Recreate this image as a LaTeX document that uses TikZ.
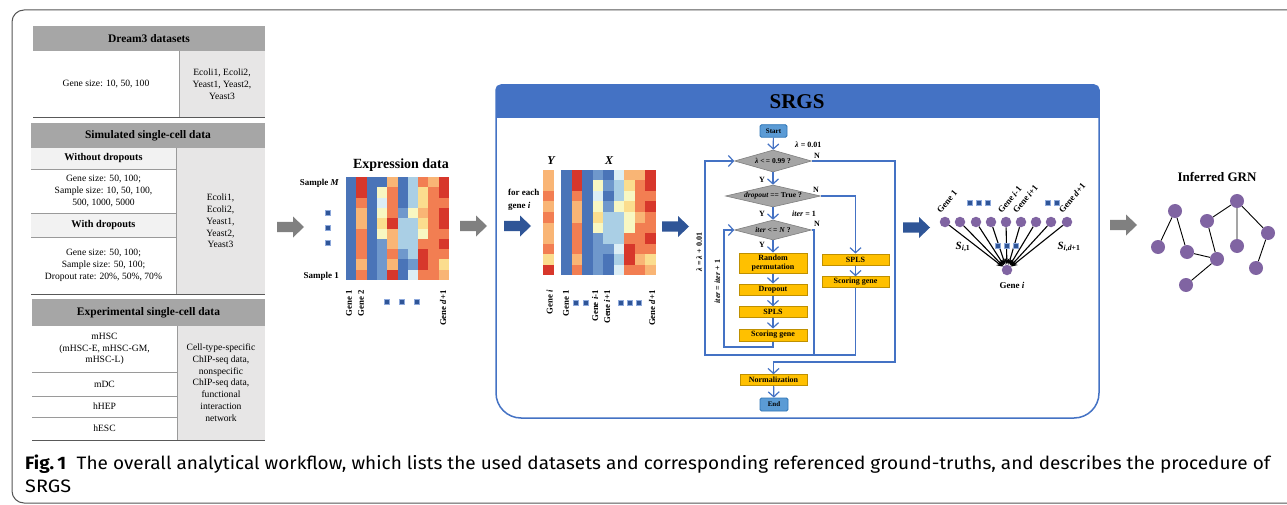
\documentclass[tikz,border=0pt]{standalone}
\usepackage{fontspec}
\usepackage{graphicx}
\setmainfont{Liberation Serif}
\newfontfamily\capfont{Fira Sans}
\usetikzlibrary{shapes.geometric,arrows.meta}
\definecolor{hdrgray}{HTML}{A6A6A6}
\definecolor{subgray}{HTML}{F2F2F2}
\definecolor{cellgray}{HTML}{E7E6E6}
\definecolor{rulec}{HTML}{595959}
\definecolor{rulel}{HTML}{9A9A9A}
\definecolor{framegray}{HTML}{555555}
\definecolor{arrgray}{HTML}{808080}
\definecolor{arrblue}{HTML}{2F5597}
\definecolor{flowblue}{HTML}{4472C4}
\definecolor{boxyel}{HTML}{FFC000}
\definecolor{boxyelb}{HTML}{BF9000}
\definecolor{dmgray}{HTML}{A5A5A5}
\definecolor{dmgrayb}{HTML}{7F7F7F}
\definecolor{termblue}{HTML}{5B9BD5}
\definecolor{termblueb}{HTML}{2E75B6}
\definecolor{purp}{HTML}{8064A2}
\definecolor{sqblue}{HTML}{2F5597}
\definecolor{sqedge}{HTML}{8FAADC}
\definecolor{h1}{HTML}{4A74B8}
\definecolor{h2}{HTML}{6F98CC}
\definecolor{h3}{HTML}{AACFE5}
\definecolor{h4}{HTML}{DCEEF5}
\definecolor{h5}{HTML}{F8F7C2}
\definecolor{h6}{HTML}{FBDD8E}
\definecolor{h7}{HTML}{F9B575}
\definecolor{h8}{HTML}{F27E52}
\definecolor{h9}{HTML}{D7372B}
\tikzset{
  tt/.style={font=\fontsize{9.6}{11.8}\selectfont, align=center, inner sep=0pt},
  th/.style={font=\bfseries\fontsize{11.5}{13}\selectfont, inner sep=0pt},
  tsub/.style={font=\bfseries\fontsize{10.3}{11}\selectfont, inner sep=0pt},
  lab/.style={font=\bfseries\fontsize{8}{9.5}\selectfont, inner sep=0pt},
  lab9/.style={font=\bfseries\fontsize{9}{11}\selectfont, inner sep=0pt},
  rot/.style={font=\bfseries\fontsize{8.8}{10}\selectfont, inner sep=0pt, rotate=90, anchor=east},
  rot45/.style={font=\bfseries\fontsize{8.8}{10}\selectfont, inner sep=0pt, rotate=50, anchor=south west},
  title/.style={font=\bfseries\fontsize{14}{16}\selectfont, inner sep=0pt},
  sq/.style={fill=sqblue, draw=sqedge, line width=0.5pt, minimum size=4.6pt, inner sep=0pt},
  fl/.style={draw=flowblue, line width=1.2pt},
  fla/.style={fl, -{Straight Barb[length=5pt,width=11pt]}},
  term/.style={draw=termblueb, fill=termblue, rounded corners=1.5pt, line width=0.8pt, font=\bfseries\fontsize{7}{8}\selectfont, inner sep=0pt, minimum width=27pt, minimum height=12.5pt},
  ybox/.style={draw=boxyelb, fill=boxyel, line width=1pt, font=\bfseries\fontsize{8}{9.5}\selectfont, inner sep=0pt, minimum width=68pt, align=center},
  dia/.style={diamond, draw=dmgrayb, fill=dmgray, line width=0.6pt, inner sep=0pt, font=\bfseries\fontsize{7.5}{9}\selectfont},
  gn/.style={circle, fill=purp, minimum size=10.5pt, inner sep=0pt},
  grn/.style={circle, fill=purp, minimum size=14pt, inner sep=0pt},
  pics/blockarr/.style={code={\fill[#1] (0,-5.2) -- (16,-5.2) -- (16,-10.5) -- (27,0) -- (16,10.5) -- (16,5.2) -- (0,5.2) -- cycle;}},
}
\begin{document}
\begin{tikzpicture}[x=1pt,y=-1pt]
\useasboundingbox (0,0) rectangle (1287,505);
\fill[white] (0,0) rectangle (1287,505);
\draw[framegray, line width=1pt, rounded corners=12pt] (1300,10) -- (12,10) -- (12,503) -- (1300,503);

% ---------------- table ----------------
\fill[hdrgray] (33,26) rectangle (265,51);
\node[th] (t1h) at (149,38.5) {Dream3 datasets};
\fill[cellgray] (179,51) rectangle (265,118);
\draw[rulel, line width=0.6pt] (179,51) -- (179,118);
\draw[rulec, line width=1pt] (33,118) -- (265,118);
\node[tt] (t1a) at (106,84) {Gene size: 10, 50, 100};
\node[tt] (t1b) at (222,84) {Ecoli1, Ecoli2,\\Yeast1, Yeast2,\\Yeast3};

\fill[hdrgray] (31,123) rectangle (265,148);
\node[th] (t2h) at (148,135.5) {Simulated single-cell data};
\fill[subgray] (31,148) rectangle (176,169);
\fill[subgray] (31,213) rectangle (176,237);
\fill[cellgray] (176,148) rectangle (265,294);
\draw[rulel, line width=0.6pt] (31,169) -- (176,169) (31,213) -- (176,213) (31,237) -- (176,237) (176,148) -- (176,294);
\draw[rulec, line width=1pt] (31,294) -- (265,294);
\node[tsub] (t2s1) at (103.5,158.5) {Without dropouts};
\node[tt] (t2a) at (103.5,191) {Gene size: 50, 100;\\Sample size: 10, 50, 100,\\500, 1000, 5000};
\node[tsub] (t2s2) at (103.5,225) {With dropouts};
\node[tt] (t2b) at (103.5,265.5) {Gene size: 50, 100;\\Sample size: 50, 100;\\Dropout rate: 20\%, 50\%, 70\%};
\node[tt] (t2c) at (220.5,221) {Ecoli1,\\Ecoli2,\\Yeast1,\\Yeast2,\\Yeast3};

\fill[hdrgray] (32,299) rectangle (265,326);
\node[th] (t3h) at (148.5,312.5) {Experimental single-cell data};
\fill[cellgray] (177,326) rectangle (265,440);
\draw[rulel, line width=0.6pt] (32,372) -- (177,372) (32,396) -- (177,396) (32,417) -- (177,417) (177,326) -- (177,440);
\draw[rulec, line width=1pt] (32,440) -- (265,440);
\node[tt] (t3a) at (104.5,349) {mHSC\\(mHSC-E, mHSC-GM,\\mHSC-L)};
\node[tt] (t3b) at (104.5,384) {mDC};
\node[tt] (t3c) at (104.5,406.5) {hHEP};
\node[tt] (t3d) at (104.5,428.5) {hESC};
\node[tt] (t3e) at (221,382.5) {Cell-type-specific\\ChIP-seq data,\\nonspecific\\ChIP-seq data,\\functional\\interaction\\network};

% ---------------- arrows ----------------
\pic at (277,227) {blockarr=arrgray};
\pic at (460,226) {blockarr=arrgray};
\pic at (504,226) {blockarr=arrblue};
\pic at (662,226.5) {blockarr=arrblue};
\pic at (903,227.5) {blockarr=arrblue};
\pic at (1110,225) {blockarr=arrgray};

% ---------------- expression data ----------------
\node[title] (exptitle) at (401,165) {Expression data};
\foreach \rowv [count=\r from 0] in {{1,9,1,1,7,1,3,8,7,9},{1,9,1,5,8,1,3,6,8,9},{1,8,1,4,8,1,3,6,8,8},{1,7,1,5,8,2,5,7,8,9},{1,7,1,6,9,3,3,6,8,9},{1,8,1,5,7,3,3,5,8,8},{1,8,1,2,7,3,3,8,8,9},{1,8,1,2,8,2,3,9,8,8},{1,7,1,2,7,1,2,9,8,6},{1,8,1,2,9,1,4,8,8,7}} {
  \foreach \v [count=\c from 0] in \rowv {
    \fill[h\v] (346+\c*10.3,177+\r*10.3) rectangle ++(10.35,10.35);
  }
}
\node[lab9, anchor=east] (sM) at (339,183) {Sample \textit{M}};
\node[lab9, anchor=east] (s1) at (339,276) {Sample 1};
\node[sq] (ev1) at (328,213) {};
\node[sq] (ev2) at (328,228) {};
\node[sq] (ev3) at (328,243) {};
\node[rot] (eg1) at (349,290) {Gene 1};
\node[rot] (eg2) at (361,290) {Gene 2};
\node[rot] (egd) at (443,290) {Gene \textit{d}+1};
\node[sq] (eh1) at (387,302) {};
\node[sq] (eh2) at (402,302) {};
\node[sq] (eh3) at (417,302) {};

% ---------------- SRGS box ----------------
\begin{scope}
\clip (496,85) rectangle (1099,118);
\fill[flowblue, rounded corners=5pt] (496,85) rectangle (1099,135);
\end{scope}
\draw[flowblue, line width=1.5pt] (496,200) [rounded corners=5pt] -- (496,85) -- (1099,85) -- (1099,200) [rounded corners=25pt] -- (1099,418) -- (496,418) -- (496,200);
\node[font=\bfseries\fontsize{21}{24}\selectfont, inner sep=0pt] (srgs) at (797,102) {SRGS};

% Y / X matrices
\node[font=\bfseries\itshape\fontsize{12}{14}\selectfont, inner sep=0pt] (ylab) at (551,161) {Y};
\node[font=\bfseries\itshape\fontsize{12}{14}\selectfont, inner sep=0pt] (xlab) at (609,161) {X};
\node[lab9, anchor=base west, align=left] (foreach) at (508,196) {for each};
\node[lab9, anchor=base west] (genei) at (508,208) {gene \textit{i}};
\foreach \v [count=\r from 0] in {7,7,8,7,8,7,7,8,6,9} {
  \fill[h\v] (543,170+\r*10.5) rectangle ++(10.5,10.55);
}
\foreach \rowv [count=\r from 0] in {{1,9,1,2,1,4,7,7,9},{1,9,1,5,2,3,6,8,9},{1,8,1,4,1,3,5,8,8},{1,7,1,5,2,5,6,8,9},{1,7,1,6,3,3,5,7,8},{1,8,1,5,3,3,5,8,8},{1,8,1,2,3,3,8,8,9},{1,8,1,2,2,4,9,8,8},{1,7,1,2,1,3,9,7,6},{1,8,1,2,1,4,8,8,7}} {
  \foreach \v [count=\c from 0] in \rowv {
    \fill[h\v] (561+\c*10.55,170+\r*10.5) rectangle ++(10.6,10.55);
  }
}
\node[rot] (xg0) at (549.5,290) {Gene \textit{i}};
\node[rot] (xg1) at (566,290) {Gene 1};
\node[rot] (xg2) at (595,290) {Gene \textit{i}-1};
\node[rot] (xg3) at (607,290) {Gene \textit{i}+1};
\node[rot] (xg4) at (652,290) {Gene \textit{d}+1};
\node[sq] (xh1) at (576,303) {};
\node[sq] (xh2) at (586,303) {};
\node[sq] (xh3) at (621,303) {};
\node[sq] (xh4) at (630,303) {};
\node[sq] (xh5) at (639,303) {};

% ---------------- flowchart ----------------
\node[term] (start) at (773.5,131) {Start};
\node[dia, minimum width=77pt, minimum height=22pt] (d1) at (773,161) {\makebox[0pt]{\textit{λ} <\,= 0.99 ?}};
\node[dia, minimum width=95pt, minimum height=22pt] (d2) at (773,196) {\makebox[0pt]{\textit{dropout} == True ?}};
\node[dia, minimum width=77pt, minimum height=20pt] (d3) at (773,230) {\makebox[0pt]{\textit{iter} <\,= \textit{N} ?}};
\node[ybox, minimum height=20pt] (rp) at (773,263) {Random\\permutation};
\node[ybox, minimum height=11pt] (dr) at (773,289.5) {Dropout};
\node[ybox, minimum height=10.5pt] (sp1) at (773,312) {SPLS};
\node[ybox, minimum height=12pt] (sg1) at (773,335) {Scoring gene};
\node[ybox, minimum width=67pt, minimum height=11pt] (sp2) at (855.5,259.5) {SPLS};
\node[ybox, minimum width=67pt, minimum height=10.5pt] (sg2) at (855.5,282) {Scoring gene};
\node[ybox, minimum width=67pt, minimum height=10.5pt] (norm) at (773.5,380) {Normalization};
\node[term, minimum width=28pt, minimum height=13pt] (end) at (774,404.5) {End};

\draw[fla] (start) -- (d1);
\draw[fla] (d1) -- (d2);
\draw[fla] (d2) -- (d3);
\draw[fla] (d3) -- (rp);
\draw[fla] (rp) -- (dr);
\draw[fla] (dr) -- (sp1);
\draw[fla] (sp1) -- (sg1);
\draw[fla] (d2.east) -| (sp2.north);
\draw[fla] (sp2) -- (sg2);
\draw[fla] (sg2.south) -- (sg2.south |- 0,355) -- (705,355) -- (705,161) -- (d1.west);
\draw[fl] (d3.east) -- (814,230) -- (814,355);
\draw[fla] (sg1.south) -- (773,347) -- (724,347) -- (724,230) -- (d3.west);
\draw[fla] (d1.east) -- (895,161) -- (895,362) -- (773.5,362) -- (norm.north);
\draw[fla] (norm) -- (end);

\node[lab, anchor=west] (lam0) at (795,145) {\textit{λ} = 0.01};
\node[lab] (n1) at (817,156) {N};
\node[lab] (n2) at (816,190) {N};
\node[lab] (n3) at (817,224) {N};
\node[lab] (y1) at (762,180) {Y};
\node[lab] (y2) at (762,214) {Y};
\node[lab] (y3) at (762,245) {Y};
\node[lab] (it1) at (804,214) {\textit{iter} = 1};
\node[lab, rotate=90] (lamup) at (699,252) {\textit{λ} = \textit{λ} + 0.01};
\node[lab, rotate=90] (itup) at (717.5,281.5) {\textit{iter} = \textit{iter} + 1};

% ---------------- gene network ----------------
\foreach \x [count=\i] in {945,960,976,991,1006,1021,1036,1051,1067} {
  \node[gn] (g\i) at (\x,222) {};
}
\node[gn] (gi) at (1007,270) {};
\foreach \i in {1,...,9} {
  \draw[line width=1.1pt, -{Stealth[length=6pt,width=5.5pt]}] (g\i) -- (gi);
}
\node[rot45] (gl1) at (941,214) {Gene 1};
\node[rot45] (gl5) at (1002,214) {Gene \textit{i}-1};
\node[rot45] (gl6) at (1017,214) {Gene \textit{i}+1};
\node[rot45] (gl9) at (1063,214) {Gene \textit{d}+1};
\node[sq] (ns1) at (970,203) {};
\node[sq] (ns2) at (979,203) {};
\node[sq] (ns3) at (988,203) {};
\node[sq] (ns4) at (1048,203) {};
\node[sq] (ns5) at (1057,203) {};
\node[sq] (ns6) at (997.5,246) {};
\node[sq] (ns7) at (1006.5,246) {};
\node[sq] (ns8) at (1015.5,246) {};
\node[font=\bfseries\fontsize{11}{13}\selectfont, inner sep=0pt] (s1l) at (963,247) {\textit{S}\textsubscript{\textit{i},1}};
\node[font=\bfseries\fontsize{11}{13}\selectfont, inner sep=0pt] (sdl) at (1069,247) {\textit{S}\textsubscript{\textit{i},\textit{d}+1}};
\node[lab9] (gil) at (1012,285) {Gene \textit{i}};

% ---------------- inferred GRN ----------------
\node[font=\bfseries\fontsize{13}{15}\selectfont, inner sep=0pt] (grnt) at (1217,177) {Inferred GRN};
\node[grn] (na) at (1175,211) {};
\node[grn] (nb) at (1158,247) {};
\node[grn] (nc) at (1187,252) {};
\node[grn] (nd) at (1207,221) {};
\node[grn] (ne) at (1217,259) {};
\node[grn] (nf) at (1186,285) {};
\node[grn] (ng) at (1237,201) {};
\node[grn] (nh) at (1237,246) {};
\node[grn] (ni) at (1268,233) {};
\node[grn] (nj) at (1256,268) {};
\draw[line width=0.9pt] (na) -- (nb) (na) -- (nc) (nc) -- (ne) (nd) -- (ne) (ne) -- (nf) (nd) -- (ng) (ng) -- (nh) (ng) -- (ni) (ni) -- (nj);

% ---------------- caption ----------------
\node[anchor=base west, inner sep=0pt] (cap1) at (25,469) {\resizebox{1245pt}{\height}{\capfont\fontsize{18}{22}\selectfont\textbf{Fig.\,1}\hspace{0.55em}The overall analytical workflow, which lists the used datasets and corresponding referenced ground-truths, and describes the procedure of}};
\node[anchor=base west, inner sep=0pt] (cap2) at (25,492.7) {\resizebox{46pt}{\height}{\capfont\fontsize{18}{22}\selectfont SRGS}};
\end{tikzpicture}
\end{document}
